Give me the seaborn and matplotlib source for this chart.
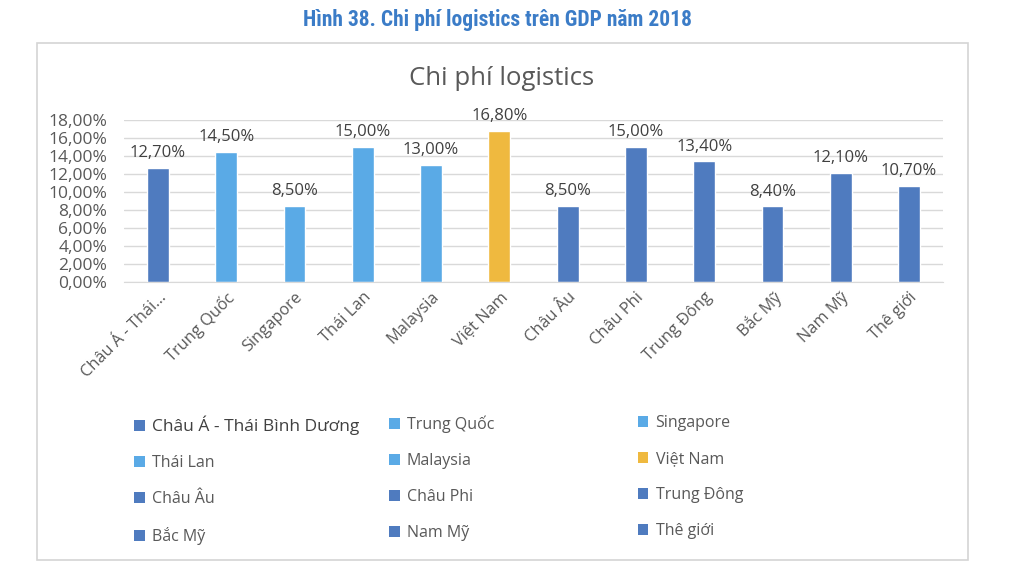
import pandas as pd
import numpy as np
import matplotlib.pyplot as plt
import seaborn as sns
from matplotlib.patches import Patch, Rectangle

# data
regions = ['Châu Á - Thái Bình Dương', 'Trung Quốc', 'Singapore', 'Thái Lan', 'Malaysia',
           'Việt Nam', 'Châu Âu', 'Châu Phi', 'Trung Đông', 'Bắc Mỹ', 'Nam Mỹ', 'Thê giới']
tick_labels = ['Châu Á - Thái…', 'Trung Quốc', 'Singapore', 'Thái Lan', 'Malaysia',
               'Việt Nam', 'Châu Âu', 'Châu Phi', 'Trung Đông', 'Bắc Mỹ', 'Nam Mỹ', 'Thê giới']
cost = [0.127, 0.145, 0.085, 0.150, 0.130, 0.168, 0.085, 0.150, 0.134, 0.084, 0.121, 0.107]

dark = '#4f7bbf'
light = '#5aaae6'
gold = '#efb93f'
colors = [dark, light, light, light, light, gold, dark, dark, dark, dark, dark, dark]

df = pd.DataFrame({'region': regions, 'cost': cost})

sns.set_style('white')
plt.rcParams['font.family'] = ['Open Sans', 'DejaVu Sans']
grey = '#595959'

fig = plt.figure(figsize=(10.24, 5.77), dpi=100)
fig.patch.set_facecolor('white')

# outer chart frame
fig.add_artist(Rectangle((0.036, 0.029), 0.909, 0.896, transform=fig.transFigure,
                         fill=False, edgecolor='#d4d4d4', linewidth=1.2))

fig.text(0.486, 0.966, 'Hình 38. Chi phí logistics trên GDP năm 2018',
         family=['DejaVu Sans Condensed', 'Roboto Condensed', 'Roboto', 'DejaVu Sans'],
         fontweight='bold', fontsize=15.5, color='#3b7cc7', ha='center', va='center')
fig.text(0.490, 0.864, 'Chi phí logistics', fontsize=18.5, color=grey,
         ha='center', va='center')

ax = fig.add_axes([0.121, 0.511, 0.800, 0.281])
sns.barplot(data=df, x='region', y='cost', hue='region', palette=colors,
            dodge=False, legend=False, width=0.32, saturation=1, ax=ax)

ax.set_ylim(0, 0.18)
ax.set_yticks(np.arange(0, 0.181, 0.02))
ax.set_yticklabels([f'{v * 100:.2f}%'.replace('.', ',') for v in np.arange(0, 0.181, 0.02)],
                   fontsize=12.5, color=grey)
ax.yaxis.grid(True, color='#d9d9d9', linewidth=1)
ax.set_axisbelow(True)
ax.set_xticks(range(len(regions)))
ax.set_xticklabels(tick_labels, rotation=45, ha='right', rotation_mode='anchor',
                   fontsize=11.8, color=grey)
ax.tick_params(axis='y', length=0, pad=12)
ax.tick_params(axis='x', length=0, pad=5)
ax.set_xlabel('')
ax.set_ylabel('')
for s in ['top', 'right', 'left']:
    ax.spines[s].set_visible(False)
ax.spines['bottom'].set_color('#d9d9d9')

for i, v in enumerate(cost):
    ax.text(i, v + 0.0075, f'{v * 100:.2f}%'.replace('.', ','), ha='center', va='bottom',
            fontsize=12, color='#404040')

# legend in three columns
handles = [Patch(facecolor=c, edgecolor='none') for c in colors]
col_x = [0.117, 0.366, 0.609]
for k in range(3):
    idx = list(range(k, len(regions), 3))
    leg = fig.legend([handles[i] for i in idx], [regions[i] for i in idx],
                     loc='upper left', bbox_to_anchor=(col_x[k], 0.305),
                     frameon=False, fontsize=11.5, labelspacing=1.25,
                     handlelength=0.65, handleheight=0.65, handletextpad=0.45,
                     labelcolor=grey)
    if k == 0:
        leg.get_texts()[0].set_fontsize(12.5)
        leg.get_texts()[0].set_color('#404040')

fig.savefig('out.png', dpi=100, facecolor='white')
